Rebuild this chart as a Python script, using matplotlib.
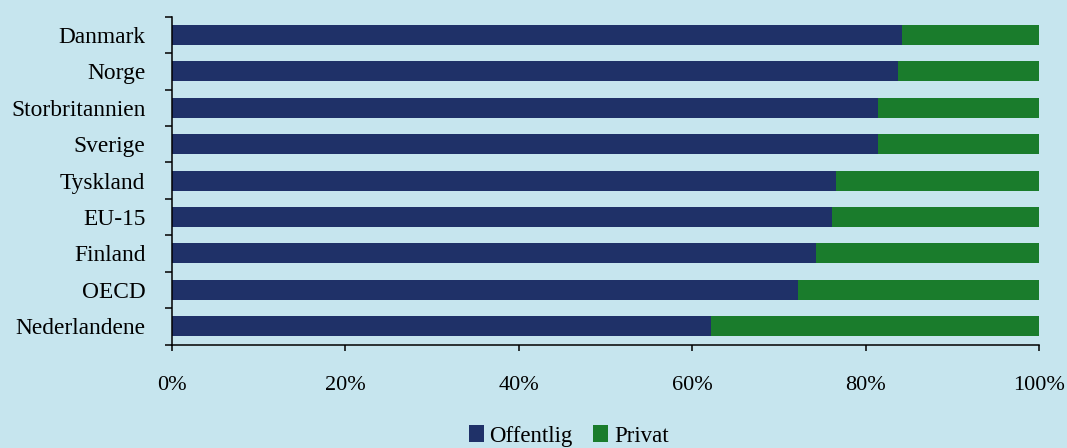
import matplotlib
matplotlib.use('Agg')
import matplotlib.pyplot as plt
import numpy as np

# data (top to bottom as in the chart)
countries = ['Danmark', 'Norge', 'Storbritannien', 'Sverige', 'Tyskland',
             'EU-15', 'Finland', 'OECD', 'Nederlandene']
offentlig = [84.2, 83.7, 81.4, 81.4, 76.6, 76.1, 74.3, 72.2, 62.2]
privat = [100 - v for v in offentlig]

bg = '#C6E5EE'
navy = '#1F3168'
green = '#1A7C2C'

plt.rcParams['font.family'] = ['Liberation Serif', 'DejaVu Serif']
plt.rcParams['font.size'] = 16

fig = plt.figure(figsize=(10.67, 4.48), dpi=100, facecolor=bg)
ax = fig.add_axes([0.161, 0.231, 0.813, 0.7315])
ax.set_facecolor(bg)

y = np.arange(len(countries))
ax.barh(y, offentlig, height=0.55, color=navy, label='Offentlig')
ax.barh(y, privat, left=offentlig, height=0.55, color=green, label='Privat')

ax.set_xlim(0, 100)
ax.set_ylim(len(countries) - 0.5, -0.5)
ax.set_xticks(np.arange(0, 101, 20))
ax.set_xticklabels(['{}%'.format(v) for v in range(0, 101, 20)])
ax.set_yticks(y)
ax.set_yticklabels(countries, fontsize=16.8)
ax.set_yticks(np.arange(-0.5, len(countries), 1), minor=True)

for side in ['top', 'right']:
    ax.spines[side].set_visible(False)
for side in ['left', 'bottom']:
    ax.spines[side].set_linewidth(1.1)
    ax.spines[side].set_color('black')

ax.tick_params(axis='y', which='major', length=0, pad=19)
ax.tick_params(axis='y', which='minor', length=5, width=1.1, direction='out')
ax.tick_params(axis='x', which='major', length=4.5, width=1.1, direction='out', pad=18)

fig.legend(loc='center', bbox_to_anchor=(0.533, 0.027), ncol=2, frameon=False,
           handlelength=0.65, handleheight=0.75, handletextpad=0.25,
           columnspacing=0.9, borderaxespad=0, fontsize=16.5)

fig.savefig('out.png', dpi=100, facecolor=bg)
